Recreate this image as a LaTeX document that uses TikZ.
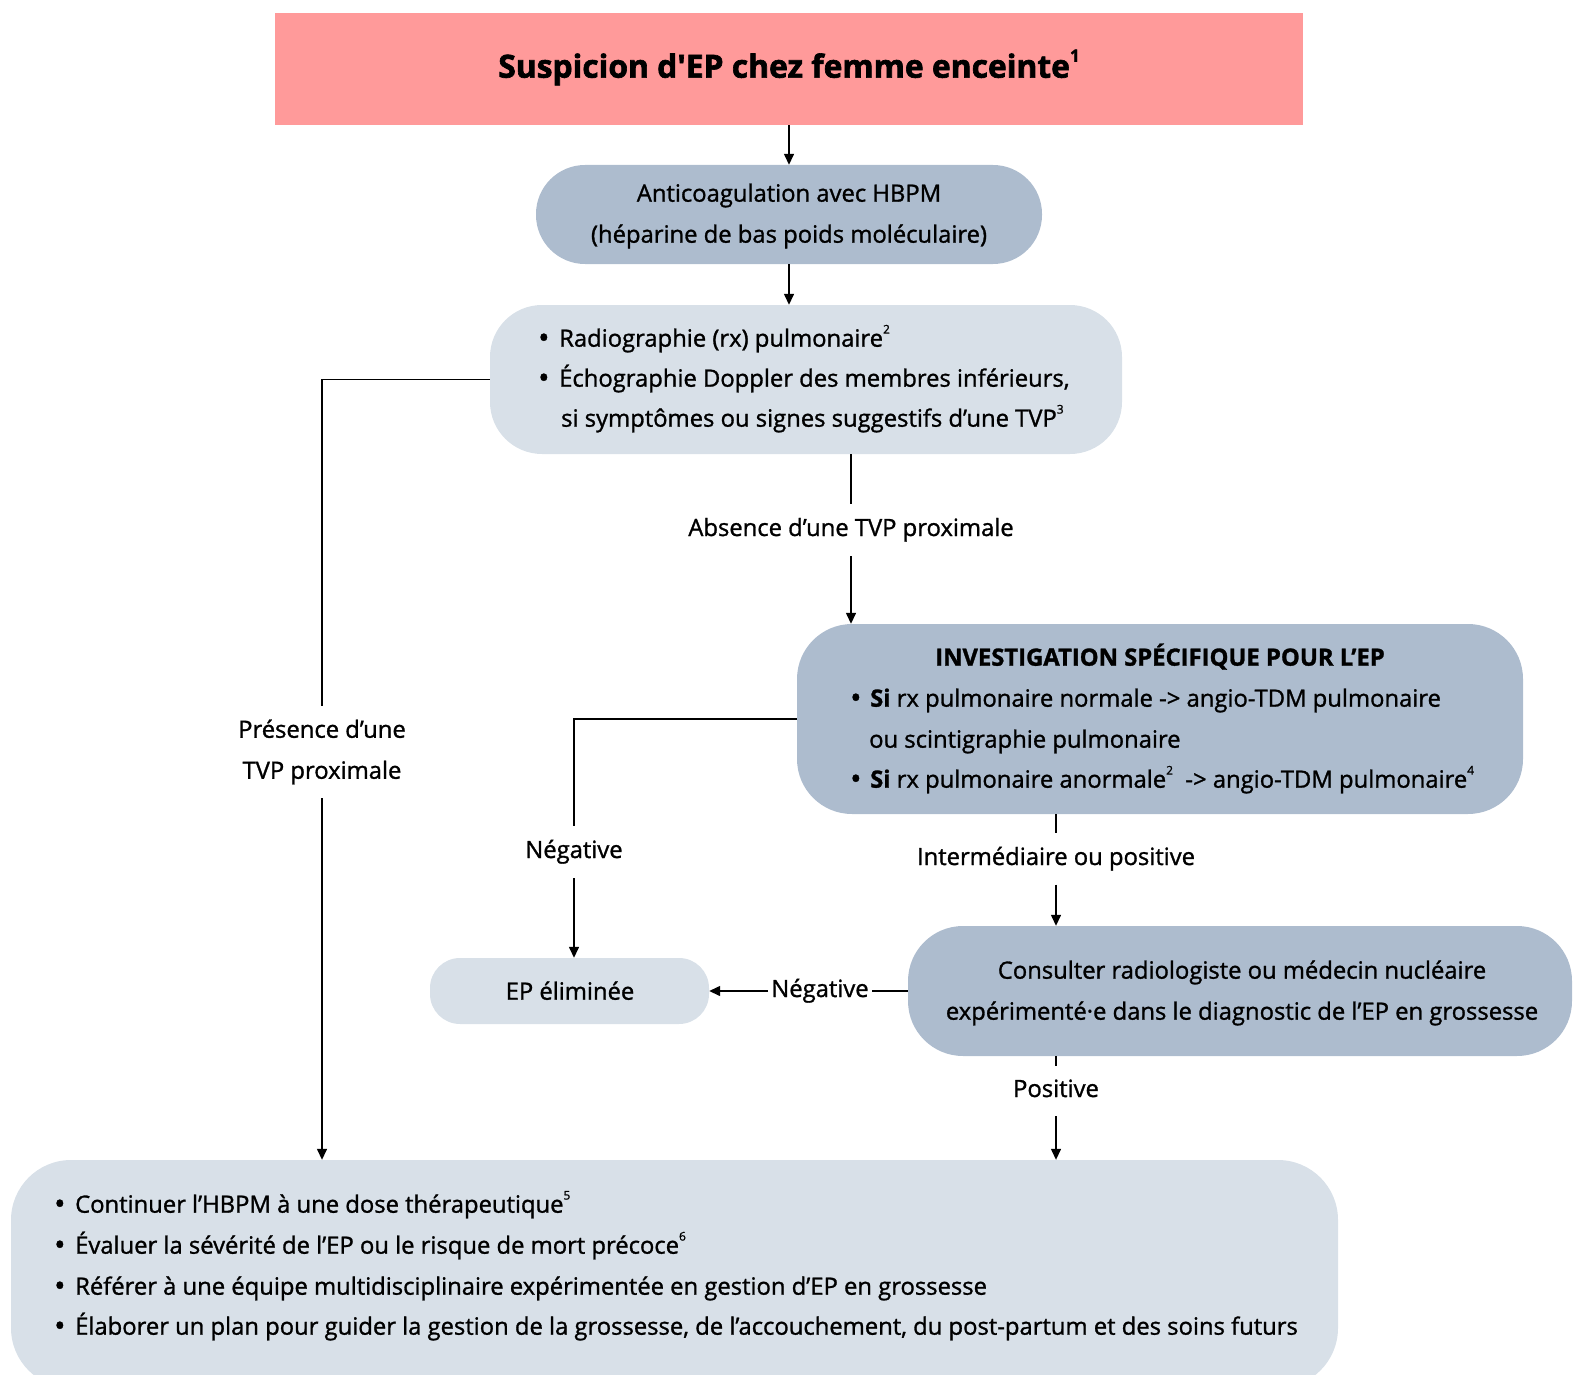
\documentclass[tikz,border=0pt]{standalone}
\usepackage{fontspec}
\setmainfont{Open Sans}[FakeBold=1.2]
\newfontfamily\titlefont{Open Sans}[UprightFont=* Bold, BoldFont=* Bold, FakeBold=2]
\usetikzlibrary{arrows.meta}
\definecolor{pinkc}{HTML}{FF9A9A}
\definecolor{darkc}{HTML}{ADBCCE}
\definecolor{lightc}{HTML}{D8E0E8}
\newcommand{\sups}[1]{\raisebox{0.55em}{\fontsize{12}{12}\selectfont #1}}
\newcommand{\bulglyph}{\raisebox{-1.5pt}{\fontsize{30}{30}\selectfont •}}
\newcommand{\bul}{\makebox[21pt][l]{\bulglyph}}
\begin{document}
\begin{tikzpicture}[x=1pt,y=-1pt,
  boxd/.style={fill=darkc, inner sep=0pt},
  boxl/.style={fill=lightc, inner sep=0pt},
  txt/.style={inner sep=0pt, font=\fontsize{23.8}{27}\selectfont},
  lblbase/.style={inner xsep=3pt, inner ysep=0pt, font=\fontsize{23.8}{27}\selectfont, align=center},
  lbl/.style={lblbase, text height=18pt, text depth=6pt},
  con/.style={line width=1.4pt},
  arr/.style={line width=1.4pt, -{Triangle[length=11pt,width=10pt]}},
]
\useasboundingbox (0,0) rectangle (1574,1375);
\clip (0,0) rectangle (1574,1375);

% boxes
\node[fill=pinkc, inner sep=0pt, minimum width=1028pt, minimum height=112pt] (top) at (789,69) {};
\node[boxd, rounded corners=49pt, minimum width=506pt, minimum height=99pt] (anti) at (789,214.5) {};
\node[boxl, rounded corners=52pt, minimum width=632pt, minimum height=149pt] (rad) at (806,379.5) {};
\node[boxd, rounded corners=55pt, minimum width=726pt, minimum height=190pt] (inv) at (1160,719) {};
\node[boxd, rounded corners=55pt, minimum width=664pt, minimum height=130pt] (cons) at (1240,991) {};
\node[boxl, rounded corners=30pt, minimum width=279pt, minimum height=66pt] (elim) at (569.5,991) {};
\node[boxl, rounded corners=60pt, minimum width=1327pt, minimum height=228pt] (bot) at (674.5,1274) {};

% texts
\node[txt, font=\fontsize{31.8}{34}\titlefont, anchor=mid] (ttop) at (789,75) {Suspicion d\textquotesingle EP chez femme enceinte\raisebox{0.5em}{\fontsize{17}{17}\selectfont 1}};

\node[txt, anchor=mid] (ta1) at (789,199) {Anticoagulation avec HBPM};
\node[txt, anchor=mid] (ta2) at (789,240) {(héparine de bas poids moléculaire)};

\node[txt, anchor=mid west] (tr1) at (538,344) {\bul Radiographie (rx) pulmonaire\sups{2}};
\node[txt, anchor=mid west] (tr2) at (538,384) {\bul Échographie Doppler des membres inférieurs,};
\node[txt, anchor=mid west] (tr3) at (561,424) {si symptômes ou signes suggestifs d’une TVP\sups{3}};

\node[txt, anchor=mid, font=\fontsize{23.8}{27}\selectfont\bfseries] (ti0) at (1160,663) {INVESTIGATION SPÉCIFIQUE POUR L’EP};
\node[txt, anchor=mid west] (ti1) at (850,704) {\makebox[20pt][l]{\bulglyph}\textbf{Si} rx pulmonaire normale -> angio-TDM pulmonaire};
\node[txt, anchor=mid west] (ti2) at (869,745) {ou scintigraphie pulmonaire};
\node[txt, anchor=mid west] (ti3) at (850,785) {\makebox[20pt][l]{\bulglyph}\textbf{Si} rx pulmonaire anormale\sups{2}\ \ -> angio-TDM pulmonaire\sups{4}};

\node[txt, anchor=mid] (tc1) at (1242,976) {Consulter radiologiste ou médecin nucléaire};
\node[txt, anchor=mid] (tc2) at (1242,1017) {expérimenté·e dans le diagnostic de l’EP en grossesse};

\node[txt, anchor=mid] (te) at (570,997) {EP éliminée};

\node[txt, anchor=mid west] (tb1) at (54,1210) {\bul Continuer l’HBPM à une dose thérapeutique\sups{5}};
\node[txt, anchor=mid west] (tb2) at (54,1251) {\bul Évaluer la sévérité de l’EP ou le risque de mort précoce\sups{6}};
\node[txt, anchor=mid west] (tb3) at (54,1292) {\bul Référer à une équipe multidisciplinaire expérimentée en gestion d’EP en grossesse};
\node[txt, anchor=mid west] (tb4) at (54,1332) {\bul Élaborer un plan pour guider la gestion de la grossesse, de l’accouchement, du post-partum et des soins futurs};

% labels
\node[lblbase, minimum height=92pt] (pres) at (322,752) {Présence d’une\\[14pt]TVP proximale};
\node[lbl, minimum height=52pt] (abs) at (851,530) {Absence d’une TVP proximale};
\node[lbl, minimum height=52pt] (neg1) at (574,852) {Négative};
\node[lbl, minimum height=51pt] (inter) at (1056,859) {Intermédiaire ou positive};
\node[lbl, minimum height=50pt] (pos) at (1056,1091) {Positive};
\node[lbl, inner xsep=3pt] (neg2) at (820,991) {Négative};

% connectors
\draw[arr] (top.south) -- (anti.north);
\draw[arr] (anti.south) -- (anti.south |- rad.north);
\draw[con] (rad.west) -- (pres.north |- rad.west) -- (pres.north);
\draw[arr] (pres.south) -- (pres.south |- bot.north);
\draw[con] (abs.north |- rad.south) -- (abs.north);
\draw[arr] (abs.south) -- (abs.south |- inv.north);
\draw[con] (inv.west) -- (neg1.north |- inv.west) -- (neg1.north);
\draw[arr] (neg1.south) -- (neg1.south |- elim.north);
\draw[con] (inter.north |- inv.south) -- (inter.north);
\draw[arr] (inter.south) -- (inter.south |- cons.north);
\draw[con] (cons.west) -- (neg2.east);
\draw[arr] (neg2.west) -- (elim.east);
\draw[con] (pos.north |- cons.south) -- (pos.north);
\draw[arr] (pos.south) -- (pos.south |- bot.north);
\end{tikzpicture}
\end{document}
